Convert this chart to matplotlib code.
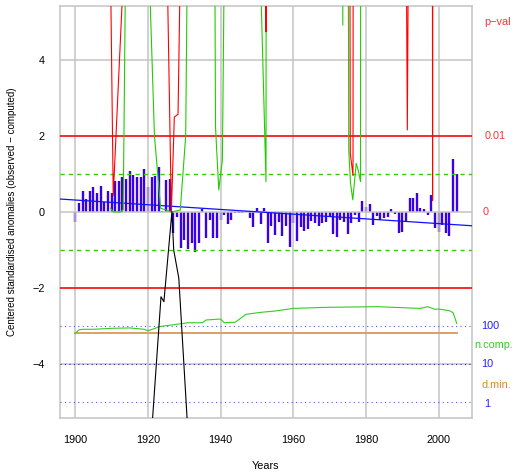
import numpy as np
import matplotlib
matplotlib.use("Agg")
import matplotlib.pyplot as plt
from matplotlib.transforms import blended_transform_factory

# Annual centered standardised anomalies (observed - computed), 1900-2005
years = np.arange(1900, 2006)
anomalies = [
    -0.25, 0.23, 0.54, 0.33, 0.55, 0.66, 0.51, 0.69, 0.25, 0.54,   # 1900s
    0.49, 0.82, 0.82, 0.91, 0.87, 1.09, 0.97, 0.93, 0.93, 1.14,    # 1910s
    0.66, 0.91, 0.96, 1.19, 0.02, 0.84, 0.88, -0.54, -0.14, -0.96,  # 1920s
    -0.74, -0.97, -0.82, -1.04, -0.81, 0.08, -0.68, -0.21, -0.68, -0.68,  # 1930s
    -0.20, -0.08, -0.32, -0.21, -0.03, -0.02, -0.03, 0.02, -0.17, -0.40,  # 1940s
    0.11, -0.31, 0.10, -0.81, -0.37, -0.60, -0.25, -0.63, -0.37, -0.93,   # 1950s
    -0.30, -0.77, -0.39, -0.50, -0.45, -0.24, -0.28, -0.37, -0.28, -0.25,  # 1960s
    -0.12, -0.58, -0.65, -0.20, -0.25, -0.58, -0.28, -0.08, -0.25, 0.29,   # 1970s
    0.12, 0.20, -0.34, -0.10, -0.20, -0.15, -0.12, 0.07, -0.04, -0.56,     # 1980s
    -0.52, -0.25, 0.36, 0.36, 0.49, 0.11, 0.08, -0.08, 0.45, -0.43,        # 1990s
    -0.52, -0.34, -0.55, -0.63, 1.39, 1.00,                                # 2000s
]

# Linear trend of the anomalies
trend_at_1900 = 0.315
trend_slope = -0.0062

# p-value curve (plotted as -log10 p; large values run off the top)
pval_x = [1900, 1909.0, 1910.45, 1913.0, 1914, 1925.0, 1926.45, 1927.27, 1928.29,
          1929.3, 1935, 1952.0, 1952.5, 1953.0, 1974.9, 1975.7, 1976.45, 1976.7,
          1991.0, 1991.4, 1991.8, 1998.0, 1998.35, 1998.7, 2005]
pval_y = [40, 12, 0.43, 5.72, 40, 8.1, 0.0, 2.5, 2.57,
          8.9, 40, 60, 4.74, 60, 40, 1.54, 0.96, 40,
          8.9, 2.16, 8.9, 60, 0.3, 60, 40]

# Second test statistic (green), NaN where it is not defined
stat_x = [1909.7, 1910.5, 1912.5, 1913.2, 1914.0, 1920.0, 1921.8, 1923.5, 1926.5,
          1928.9, 1930.4, 1931.0, 1938.2, 1938.6, 1939.5, 1940.5, 1941.0, 1950.5,
          1952.5, 1952.6, 1973.6, 1973.64, 1973.7, 1974.8, 1975.28, 1975.76,
          1976.39, 1977.33, 1977.88, 1978.51, 1978.6, 2005]
stat_y = [0.1, 0.0, 0.0, 0.06, 8.0, 7.4, 2.0, 0.1, 0.0,
          0.05, 2.0, 8.3, 12, 2.24, 0.58, 1.37, 6.5, 8,
          0.8, 15, 60, 4.92, np.nan, 20, 1.63, 0.76,
          0.32, 1.28, 1.1, 0.8, 15, 40]

# SNHT-like black curve around 1925
snht_x = [1921.0, 1923.6, 1924.4, 1926.6, 1927.1, 1928.5, 1931.0]
snht_y = [-5.82, -2.23, -2.36, 0.0, -1.0, -1.74, -5.79]

# Number of complete references and minimum distance (log scale)
ncomp_years = [1900, 1901, 1902, 1905, 1910, 1915, 1919, 1920, 1922, 1923, 1925,
               1928, 1931, 1935, 1936, 1940, 1941, 1943, 1944, 1947, 1951, 1955,
               1960, 1969, 1983, 1995, 1997, 1999, 2000, 2003, 2004, 2005]
ncomp = [64, 79, 82, 82, 87, 89, 82, 75, 87, 96, 102,
         111, 122, 122, 144, 153, 122, 125, 125, 203, 229, 248,
         291, 310, 323, 291, 323, 275, 280, 253, 224, 117]
dmin_years = [1900, 2005]
dmin = [64, 64]

xticks = [1900, 1920, 1940, 1960, 1980, 2000]
yticks = [-4, -2, 0, 2, 4]


def log_to_axis(v):
    # 1 -> -5, 10 -> -4, 100 -> -3 on the anomaly axis
    return np.log10(np.asarray(v, dtype=float)) - 5


plt.rcParams["font.family"] = ["Liberation Sans", "DejaVu Sans"]
plt.rcParams["font.size"] = 7.8

fig = plt.figure(figsize=(5.14, 4.72), dpi=100)
ax = fig.add_axes([60 / 514, 1 - 418 / 472, 412 / 514, 412 / 472])
ax.set_xlim(1895.8, 2009.2)
ax.set_ylim(-5.42, 5.42)

grid_col = "#c4c4c4"
ax.vlines(years, 0, anomalies, color="#3a00e6", linewidth=1.7, zorder=2)
for x in xticks:
    ax.axvline(x, color=grid_col, linewidth=1.1, zorder=3)
for y in yticks:
    ax.axhline(y, color=grid_col, linewidth=1.1, zorder=3)

ax.axhline(2, color="#ff0000", linewidth=1.1, zorder=4)
ax.axhline(-2, color="#ff0000", linewidth=1.1, zorder=4)
for y in (1, -1):
    ax.axhline(y, color="#33cc00", linewidth=1.0, linestyle=(0, (3, 3)), zorder=4)
for y, c in ((-3, "#5555ee"), (-4, "#2222aa"), (-5, "#5555ee")):
    ax.axhline(y, color=c, linewidth=0.8, linestyle=(0, (1, 3)), zorder=4)

ax.axline((1900, trend_at_1900), slope=trend_slope, color="#1010ff",
          linewidth=0.9, zorder=5)

ax.plot(dmin_years, log_to_axis(dmin), color="#e0a060", linewidth=1.4, zorder=5)
ax.plot(ncomp_years, log_to_axis(ncomp), color="#33cc22", linewidth=0.8, zorder=5)

ax.plot(stat_x, stat_y, color="#22cc00", linewidth=0.8, zorder=6)
ax.plot(pval_x, pval_y, color="#ff0000", linewidth=0.8, zorder=6)
ax.plot(snht_x, snht_y, color="black", linewidth=0.8, zorder=7)

ax.set_xticks(xticks)
ax.set_yticks(yticks)
ax.tick_params(axis="both", length=0)
ax.tick_params(axis="x", pad=12)
ax.tick_params(axis="y", pad=11)
for s in ax.spines.values():
    s.set_color(grid_col)
    s.set_linewidth(1.1)

ax.set_xlabel("Years")
ax.set_ylabel("Centered standardised anomalies (observed \u2212 computed)", fontsize=7.0)
ax.xaxis.set_label_coords(0.5, (418 - 466) / 412)
ax.yaxis.set_label_coords((12 - 60) / 412, 0.5)
ax.xaxis.label.set_va("center")
ax.yaxis.label.set_va("center")

# Right-hand legend texts
trans = blended_transform_factory(ax.transAxes, ax.transData)
right_labels = [
    ("p\u2212val", 498, 5.0, "#ff3333"),
    ("0.01", 495, 2.0, "#ff3333"),
    ("0", 486, 0.0, "#ff3333"),
    ("100", 490, -3.0, "#2222ff"),
    ("n.comp.", 494, -3.5, "#33cc22"),
    ("10", 487, -4.0, "#2222ff"),
    ("d.min.", 496, -4.55, "#dd8822"),
    ("1", 487, -5.05, "#2222ff"),
]
for text, px, y, c in right_labels:
    ax.text((px - 60) / 412, y, text, color=c, transform=trans,
            ha="center", va="center", clip_on=False)

fig.savefig("out.png", dpi=100)
